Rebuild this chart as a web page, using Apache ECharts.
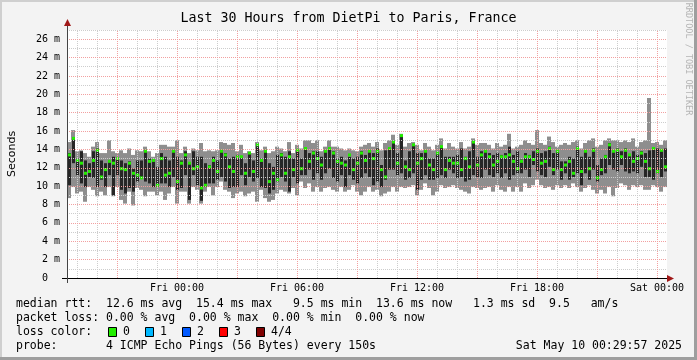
<!DOCTYPE html>
<html><head><meta charset="utf-8">
<script src="https://cdn.jsdelivr.net/npm/echarts@6/dist/echarts.min.js"></script>
<style>html,body{margin:0;padding:0;background:#f3f3f3}#c{width:697px;height:360px}</style>
</head><body><div id="c"></div>
<script>
// time axis: hours relative to Fri 00:00, each column = 12 minutes
const startHour = -5.5;
const stepHours = 0.2;

const pingMax = [
14.8,16.1,13.8,13.9,13.6,13.2,14.3,14.8,13.6,13.6,15.0,13.8,13.6,13.9,13.6,14.1,13.4,13.9,13.8,14.3,
13.8,13.2,13.6,14.5,14.5,14.3,14.3,15.0,13.6,14.3,13.6,14.1,13.9,14.7,13.8,13.9,13.8,13.9,
14.8,14.7,14.5,14.7,13.8,14.5,13.6,13.8,13.6,14.8,13.9,14.3,13.6,13.8,14.3,14.1,13.8,14.8,13.6,14.5,
14.1,15.0,15.0,14.7,15.0,13.8,14.3,15.0,14.3,14.3,14.1,13.9,14.1,13.9,13.8,14.3,14.5,
14.7,14.3,14.8,13.9,14.7,15.0,15.6,14.5,15.7,14.3,14.7,14.8,14.5,13.9,14.7,14.3,13.9,14.5,15.2,14.1,
14.7,14.3,14.1,14.8,14.1,14.3,15.2,14.5,14.7,14.7,14.5,14.1,14.7,14.3,14.5,15.7,14.1,14.3,
14.5,15.0,14.7,14.5,16.1,14.7,14.5,15.4,14.8,14.3,14.5,14.7,14.5,14.8,15.0,14.1,14.7,15.0,15.2,14.3,
14.5,15.0,15.2,15.0,15.0,14.8,15.0,14.8,15.2,14.3,14.8,15.0,19.6,14.7,14.8,14.5,15.0
];
const pingMin = [
8.7,9.9,9.2,9.4,8.3,9.9,9.6,8.9,9.4,9.0,9.9,8.9,9.9,8.5,8.1,9.4,7.9,9.8,9.6,8.9,
9.4,9.4,9.0,9.4,8.5,9.2,9.9,8.1,9.4,9.4,8.1,9.9,9.6,8.1,9.4,9.9,9.0,9.9,
10.5,9.6,9.4,8.7,9.2,9.4,8.9,9.2,9.4,8.3,9.6,8.7,8.3,8.5,9.2,9.6,9.4,9.2,9.8,9.0,
10.5,9.8,10.3,9.4,9.9,9.4,9.8,9.9,9.6,9.4,9.9,9.4,9.6,10.1,9.4,9.0,9.4,
9.9,9.4,9.6,8.9,9.2,9.4,9.9,9.4,9.9,9.8,9.9,10.1,9.0,9.6,10.3,9.8,9.0,9.4,10.1,9.8,
9.9,10.1,9.8,9.6,9.4,9.2,9.9,9.8,9.6,9.8,9.9,9.4,10.1,9.6,9.4,9.9,9.4,9.9,
9.4,10.3,9.8,10.1,10.7,10.1,9.8,9.9,9.6,10.1,9.8,10.1,9.8,10.3,9.9,9.4,9.8,10.1,9.6,9.2,
9.6,9.2,9.9,8.9,9.8,10.3,10.1,9.6,10.1,9.9,10.1,9.6,9.6,10.1,9.9,9.4,9.9
];
const pingLow = [
10.1,12.5,11.2,10.3,9.9,11.0,10.9,9.9,10.7,9.9,11.2,9.0,11.2,9.6,9.2,9.8,9.4,10.5,10.9,10.5,
10.3,9.9,9.9,10.3,10.3,9.9,11.0,9.6,9.8,11.2,8.5,11.2,10.1,8.4,9.9,10.3,10.3,10.7,
11.0,10.5,9.8,9.9,9.9,11.2,10.1,11.0,10.5,10.9,9.9,9.8,9.2,9.6,10.5,11.0,10.5,9.4,11.0,10.3,
11.2,11.2,11.8,10.7,11.4,10.7,11.4,11.9,10.9,10.5,11.2,9.9,11.2,10.7,10.3,10.9,11.4,
11.0,10.1,10.5,9.9,10.7,11.8,11.8,11.2,11.4,10.7,10.9,11.4,9.6,10.7,11.2,10.7,10.7,10.9,11.2,10.9,
11.8,11.4,10.9,11.0,10.5,10.7,11.2,11.0,10.9,11.8,11.2,11.0,11.4,10.9,11.4,10.7,11.2,11.4,
11.4,11.8,11.0,12.3,11.6,11.2,11.0,12.1,11.2,11.8,10.7,11.4,10.7,11.0,11.4,10.1,11.4,10.7,11.8,10.5,
11.2,11.4,12.3,11.8,11.6,12.3,11.6,11.4,11.6,11.4,12.1,11.0,11.0,10.7,11.4,11.0,11.6
];
const pingHigh = [
13.6,15.2,13.0,13.8,12.8,12.5,13.8,14.1,12.8,12.5,12.8,13.2,13.0,12.8,12.5,12.7,11.9,12.8,12.8,13.8,
13.0,12.9,12.1,13.6,13.2,12.8,13.9,13.2,12.8,13.8,12.5,13.8,13.2,13.2,12.5,12.3,13.2,12.8,
13.9,13.6,13.0,13.2,13.4,13.2,12.5,13.6,12.8,14.5,13.0,13.8,12.5,12.1,13.4,13.6,13.2,13.8,13.0,13.8,
13.0,14.1,13.6,13.8,13.8,13.2,13.8,14.1,13.8,13.0,13.2,12.8,13.2,13.0,13.2,13.8,13.4,
13.8,13.6,14.1,12.3,13.9,14.1,14.8,13.6,15.5,12.8,13.8,14.5,13.6,13.6,13.8,13.0,13.0,13.6,14.3,13.2,
13.2,13.2,13.4,14.1,13.2,13.8,14.8,13.2,13.8,13.9,13.6,13.4,13.6,13.4,13.6,14.3,13.4,13.8,
12.9,13.6,13.4,13.8,14.1,13.6,13.8,14.3,13.6,13.8,12.7,12.7,13.2,13.0,14.3,13.2,13.8,13.2,14.1,12.3,
13.0,13.4,14.7,13.9,14.1,13.8,14.1,13.4,13.8,13.4,13.8,13.6,13.9,14.1,14.1,13.9,14.1
];
const pingMedian = [
13.4,15.2,12.8,12.5,11.4,11.6,12.8,13.9,11.0,11.8,12.7,12.5,13.0,11.9,11.8,12.5,11.4,11.2,10.9,13.8,
12.7,12.8,10.1,13.0,11.2,11.4,13.8,10.5,12.5,13.4,12.5,11.9,12.1,9.8,10.1,12.1,12.8,11.6,
13.8,13.4,12.1,11.6,13.2,13.2,11.4,13.6,11.6,14.5,12.8,13.8,10.5,11.4,10.7,13.4,11.4,13.2,11.8,13.9,
11.9,14.1,12.7,13.6,13.0,12.3,13.8,14.1,13.6,12.7,12.5,12.3,13.4,11.8,12.5,13.6,12.8,
13.8,13.0,13.8,11.8,11.0,14.1,14.8,12.5,15.5,12.1,11.8,14.5,12.5,13.0,13.8,12.3,11.8,13.6,14.3,11.8,
12.8,12.5,12.5,11.8,13.0,12.1,14.8,12.3,13.4,13.8,13.2,12.3,12.7,13.2,13.2,13.4,12.7,11.9,
12.7,13.2,13.2,12.9,13.8,12.5,12.7,14.1,11.8,13.8,11.8,12.3,12.7,11.4,14.1,11.6,13.8,11.9,13.9,10.9,
11.8,13.2,14.5,13.8,13.9,13.2,13.9,13.4,12.7,13.0,13.6,12.7,11.9,14.1,11.6,13.9,12.1
];

const xLabelHours = [0, 6, 12, 18, 24];
const xLabelTexts = ['Fri 00:00', 'Fri 06:00', 'Fri 12:00', 'Fri 18:00', 'Sat 00:00'];
const xMajorHours = [-3, 0, 3, 6, 9, 12, 15, 18, 21, 24];
const xMinorHours = [-5, -4, -2, -1, 1, 2, 4, 5, 7, 8, 10, 11, 13, 14, 16, 17, 19, 20, 22, 23];
const yMajor = [0, 2, 4, 6, 8, 10, 12, 14, 16, 18, 20, 22, 24, 26];
const yMinor = [1, 3, 5, 7, 9, 11, 13, 15, 17, 19, 21, 23, 25, 27];

const legendLines = [
  'median rtt:  12.6 ms avg  15.4 ms max   9.5 ms min  13.6 ms now   1.3 ms sd  9.5   am/s',
  'packet loss: 0.00 % avg  0.00 % max  0.00 % min  0.00 % now',
  'loss color:',
  'probe:       4 ICMP Echo Pings (56 Bytes) every 150s'
];
const lossLabels = ['0', '1', '2', '3', '4/4'];
const lossColors = ['#22ee00', '#00b8ff', '#0059ff', '#ff0000', '#7f0000'];

const data = pingMax.map((_, i) => [
  startHour + i * stepHours, startHour + (i + 1) * stepHours,
  pingMin[i], pingLow[i], pingMedian[i], pingHigh[i], pingMax[i]
]);

const MONO = '"DejaVu Sans Mono", monospace';
const RED = '#f2a0a0';
const GRAY = '#cdcdcd';

function renderItem(params, api) {
  const xa = Math.round(api.coord([api.value(0), 0])[0]);
  const xb = Math.round(api.coord([api.value(1), 0])[0]);
  const y = v => api.coord([startHour, v])[1];
  const yMin = y(api.value(2)), yLow = y(api.value(3)), yMed = y(api.value(4)),
        yHigh = y(api.value(5)), yMax = y(api.value(6));
  const w = xb - xa;
  return {
    type: 'group',
    children: [
      { type: 'rect', shape: { x: xa, y: yMax, width: w, height: yMin - yMax }, style: { fill: '#8e8e8e' } },
      { type: 'rect', shape: { x: xa + 1, y: yHigh, width: w - 1, height: yLow - yHigh }, style: { fill: '#262626' } },
      { type: 'rect', shape: { x: xa + 1, y: yMed - 1.5, width: w - 1, height: 3 }, style: { fill: '#22ee00' } }
    ]
  };
}

const vGridLines = xMinorHours.map(h => ({ xAxis: h, lineStyle: { color: GRAY } }))
  .concat(xMajorHours.map(h => ({ xAxis: h, lineStyle: { color: RED } })));

const graphics = [
  { type: 'rect', shape: { x: 0, y: 0, width: 697, height: 2 }, style: { fill: '#cfcfcf' }, silent: true },
  { type: 'rect', shape: { x: 0, y: 0, width: 2, height: 360 }, style: { fill: '#cfcfcf' }, silent: true },
  { type: 'rect', shape: { x: 694, y: 0, width: 3, height: 360 }, style: { fill: '#9e9e9e' }, silent: true },
  { type: 'rect', shape: { x: 0, y: 357, width: 697, height: 3 }, style: { fill: '#9e9e9e' }, silent: true },
  { type: 'text', x: 348.5, y: 19, style: { text: 'Last 30 Hours from DietPi to Paris, France', font: '13.3px ' + MONO, fill: '#000', textAlign: 'center', textVerticalAlign: 'middle' } },
  { type: 'text', x: 688, y: 59, rotation: -Math.PI / 2, style: { text: 'RRDTOOL / TOBI OETIKER', font: '8.5px ' + MONO, fill: '#b4b4b4', textAlign: 'center', textVerticalAlign: 'middle' } },
  // axis extensions and arrows
  { type: 'line', shape: { x1: 62, y1: 278.5, x2: 668, y2: 278.5 }, style: { stroke: '#000', lineWidth: 1 }, z: 10 },
  { type: 'line', shape: { x1: 67.5, y1: 283, x2: 67.5, y2: 25 }, style: { stroke: '#444', lineWidth: 1 }, z: 10 },
  { type: 'polygon', shape: { points: [[667, 275], [674, 278.5], [667, 282]] }, style: { fill: '#a01818' }, z: 10 },
  { type: 'polygon', shape: { points: [[64, 26], [67.5, 19], [71, 26]] }, style: { fill: '#a01818' }, z: 10 }
];
const legendY = [304, 318, 332, 346];
legendLines.forEach((t, i) => {
  graphics.push({ type: 'text', x: 16, y: legendY[i], style: { text: t, font: '11.5px ' + MONO, fill: '#000', textVerticalAlign: 'middle' } });
});
const boxX = [108, 145, 182, 219, 256];
lossLabels.forEach((t, i) => {
  graphics.push({ type: 'rect', shape: { x: boxX[i] + 0.5, y: 327.5, width: 8, height: 9 }, style: { fill: lossColors[i], stroke: '#000', lineWidth: 1 } });
  graphics.push({ type: 'text', x: boxX[i] + 15, y: 332, style: { text: t, font: '11.5px ' + MONO, fill: '#000', textVerticalAlign: 'middle' } });
});
graphics.push({ type: 'text', x: 682, y: 346, style: { text: 'Sat May 10 00:29:57 2025', font: '11.5px ' + MONO, fill: '#000', textAlign: 'right', textVerticalAlign: 'middle' } });

const chart = echarts.init(document.getElementById('c'), null, { renderer: 'canvas' });
chart.setOption({
  animation: false,
  backgroundColor: '#f3f3f3',
  grid: { left: 67, top: 30, width: 600, height: 248, show: true, backgroundColor: '#ffffff', borderWidth: 0, containLabel: false, outerBoundsMode: 'none' },
  xAxis: {
    type: 'value', min: startHour, max: startHour + 30, z: 5,
    axisLine: { show: false },
    axisTick: { show: false, customValues: xLabelHours },
    axisLabel: {
      customValues: xLabelHours, margin: 5,
      formatter: v => xLabelTexts[xLabelHours.indexOf(v)],
      fontFamily: 'DejaVu Sans Mono', fontSize: 10, color: '#000'
    },
    splitLine: { show: false }
  },
  yAxis: [
    {
      type: 'value', min: 0, max: 27, z: 5,
      name: 'Seconds', nameLocation: 'middle', nameRotate: 90, nameGap: 49,
      nameTextStyle: { fontFamily: 'DejaVu Sans', fontSize: 11, color: '#000' },
      axisLine: { show: false },
      axisTick: { show: false, customValues: yMajor },
      axisLabel: {
        customValues: yMajor, margin: 7,
        formatter: v => v === 0 ? '0  ' : v + ' m',
        fontFamily: 'DejaVu Sans Mono', fontSize: 10, color: '#000'
      },
      splitLine: { show: true, lineStyle: { color: RED, type: [1, 1], width: 1 } }
    },
    {
      type: 'value', min: 0, max: 27, z: 4, position: 'left',
      axisLine: { show: false },
      axisTick: { show: false, customValues: yMinor },
      axisLabel: { show: false },
      splitLine: { show: true, lineStyle: { color: GRAY, type: [1, 1], width: 1 } }
    }
  ],
  series: [{
    type: 'custom', xAxisIndex: 0, yAxisIndex: 0, z: 2, clip: true,
    renderItem: renderItem,
    encode: { x: [0, 1], y: [2, 3, 4, 5, 6] },
    data: data,
    markLine: {
      silent: true, symbol: 'none', animation: false, z: 4, precision: 3,
      label: { show: false },
      lineStyle: { type: [1, 1], width: 1 },
      emphasis: { disabled: true },
      data: vGridLines
    }
  }],
  graphic: graphics
});
</script></body></html>
